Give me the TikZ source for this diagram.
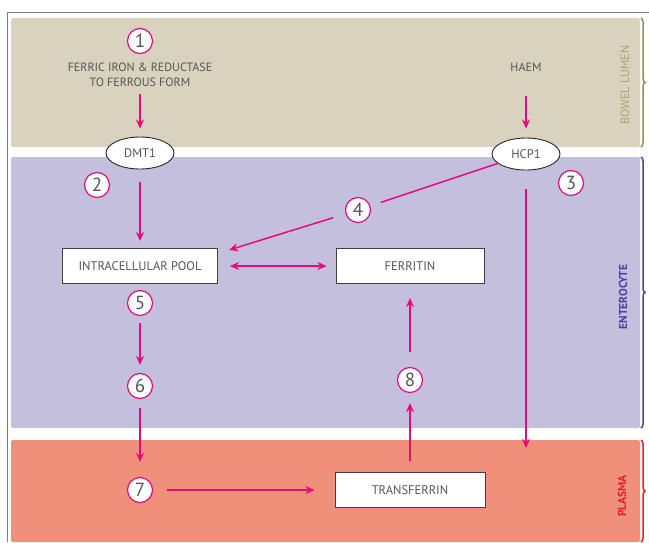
\documentclass[tikz,border=0pt]{standalone}
\usepackage{fontspec}
\setmainfont{PT Sans}
\usetikzlibrary{arrows.meta,shapes.geometric,decorations.pathreplacing}

\definecolor{lumenbg}{RGB}{217,210,190}
\definecolor{cellbg}{RGB}{197,191,222}
\definecolor{plasmabg}{RGB}{238,144,122}
\definecolor{flowpink}{RGB}{230,10,125}
\definecolor{labelgray}{RGB}{85,85,85}
\definecolor{lumenline}{RGB}{150,140,90}
\definecolor{lumentext}{RGB}{175,163,115}
\definecolor{cellline}{RGB}{75,65,165}
\definecolor{plasmaline}{RGB}{232,30,40}

\begin{document}
\begin{tikzpicture}[x=1pt,y=-1pt,
        every node/.style={text=labelgray},
        num/.style={circle,draw=flowpink,fill=white,line width=1.2pt,inner sep=0pt,minimum size=25pt,font=\fontsize{19}{19}\selectfont},
        stage/.style={rectangle,draw=black!75,fill=white,line width=1pt,minimum height=35pt,font=\fontsize{12.5}{14}\selectfont},
        carrier/.style={ellipse,draw=black!85,fill=white,line width=0.9pt,minimum width=68pt,minimum height=32pt,inner sep=0pt,font=\fontsize{12.5}{14}\selectfont},
        flow/.style={draw=flowpink,line width=1.5pt,-{Stealth[length=9pt,width=8pt]}},
        link/.style={draw=flowpink,line width=1.5pt},
        side/.style={rotate=90,font=\fontsize{12}{14}\selectfont},
        region/.style={decorate,decoration={brace,amplitude=4pt},line width=1.5pt}]

        \useasboundingbox (0,0) rectangle (649,542);

        % bands
        \fill[lumenbg, rounded corners=2pt] (11,18) rectangle (640,147);
        \fill[cellbg, rounded corners=2pt] (11,157) rectangle (640,428);
        \fill[plasmabg, rounded corners=2pt] (11,440) rectangle (640,542);
        \draw[gray, line width=0.8pt] (7,542) -- (7,12) -- (649,12);

        \draw[region, draw=lumenline] (641,18) -- (641,147);
        \draw[region, draw=cellline] (641,157) -- (641,428);
        \draw[region, draw=plasmaline] (641,440) -- (641,542);
        \node (lumen) [side, text=lumentext] at (625,85) {BOWEL LUMEN};
        \node (cell) [side, text=cellline, font=\fontsize{11.5}{14}\selectfont\bfseries] at (623,297) {ENTEROCYTE};
        \node (plasma) [side, text=plasmaline, font=\fontsize{11.5}{14}\selectfont\bfseries] at (622,496) {PLASMA};

        % nodes
        \node (n1) [num] at (140,41) {1};
        \node (ferric) [align=center, font=\fontsize{12}{14.5}\selectfont] at (140,75) {FERRIC IRON \& REDUCTASE\\TO FERROUS FORM};
        \node (haem) [font=\fontsize{12}{14.5}\selectfont] at (526,67) {HAEM};
        \node (dmt) [carrier] at (140,153) {DMT1};
        \node (hcp) [carrier] at (526,154) {HCP1};
        \node (n2) [num] at (97,185) {2};
        \node (n3) [num] at (571,183) {3};
        \node (n4) [num] at (358,210) {4};
        \node (pool) [stage, minimum width=155pt] at (140,266) {INTRACELLULAR POOL};
        \node (ferritin) [stage, minimum width=148pt] at (410,266) {FERRITIN};
        \node (n5) [num] at (140,303) {5};
        \node (n6) [num] at (140,386) {6};
        \node (n8) [num] at (410,380) {8};
        \node (n7) [num] at (140,490) {7};
        \node (transferrin) [stage, minimum width=150pt] at (410,490) {TRANSFERRIN};
        \coordinate (poolin) at (229,250);
        \coordinate (plasmain) at (526,448);

        % connectors
        \draw[flow, shorten <=4pt, shorten >=8pt] (ferric) -- (dmt);
        \draw[flow, shorten <=21pt, shorten >=9pt] (haem) -- (hcp);
        \draw[flow, shorten <=13pt, shorten >=7pt] (dmt) -- (pool);
        \draw[link, shorten >=11pt] (hcp) -- (n4);
        \draw[flow, shorten <=13pt] (n4) -- (poolin);
        \draw[flow, {Stealth[length=9pt,width=8pt]}-{Stealth[length=9pt,width=8pt]}, shorten <=12pt, shorten >=9pt] (pool) -- (ferritin);
        \draw[flow, shorten <=19pt] (hcp) -- (plasmain);
        \draw[flow, shorten <=7pt, shorten >=8pt] (n5) -- (n6);
        \draw[flow, shorten <=9pt, shorten >=15pt] (n6) -- (n7);
        \draw[flow, shorten <=14pt, shorten >=20pt] (n7) -- (transferrin);
        \draw[flow, shorten <=11pt, shorten >=10pt] (transferrin) -- (n8);
        \draw[flow, shorten <=15pt, shorten >=14pt] (n8) -- (ferritin);

\end{tikzpicture}
\end{document}
